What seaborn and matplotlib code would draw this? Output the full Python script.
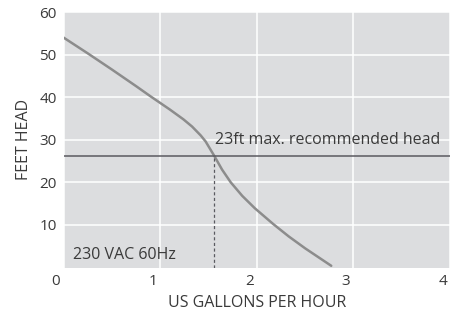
import matplotlib
matplotlib.use("Agg")
import matplotlib.pyplot as plt
import matplotlib.transforms as mtransforms
import pandas as pd
import seaborn as sns

# pump curve
gph = [0, 0.25, 0.5, 0.75, 0.9, 1.1, 1.24, 1.33, 1.42, 1.47, 1.56, 1.64, 1.73, 1.85, 1.98, 2.17, 2.33, 2.5, 2.77]
head = [54, 50.3, 46.5, 42.6, 40.2, 37.1, 34.8, 33.1, 31.0, 29.6, 26.2, 23, 20, 16.8, 13.9, 10.2, 7.3, 4.5, 0.4]
max_head = 26.2
max_gph = 1.56
x_ticks = [0, 1, 2, 3, 4]
y_ticks = [10, 20, 30, 40, 50, 60]

df = pd.DataFrame({"gph": gph, "head": head})

sns.set_theme(style="darkgrid", rc={
    "axes.facecolor": "#dcdddf",
    "grid.color": "white",
    "grid.linewidth": 1.1,
})
plt.rcParams["font.family"] = ["Open Sans", "DejaVu Sans"]
txt = "#3a3a3a"

fig = plt.figure(figsize=(4.57, 3.12), dpi=100)
ax = fig.add_axes([0.139, 0.1426, 0.846, 0.8189])

sns.lineplot(data=df, x="gph", y="head", ax=ax, color="#8c8c8c", linewidth=1.8)
ax.axhline(max_head, color="#5a5a60", linewidth=1.1)
ax.vlines(max_gph, 0, max_head, colors="#5a5a60", linestyles=(0, (2.5, 2)), linewidth=0.9)

ax.text(3.9, 29.1, "23ft max. recommended head", ha="right", va="baseline", fontsize=11.5, color=txt)
ax.text(0.095, 1.9, "230 VAC 60Hz", ha="left", va="baseline", fontsize=11.5, color=txt)

ax.set_xlim(0, 4)
ax.set_ylim(0, 60)
ax.set_xticks(x_ticks)
ax.set_yticks(y_ticks)
ax.tick_params(axis="both", length=0, labelsize=11, labelcolor=txt)
ax.tick_params(axis="x", pad=5)
ax.tick_params(axis="y", pad=5)
# the x labels sit a little left of their gridlines in the original
shift = mtransforms.ScaledTranslation(-7.5 / 100, 0, fig.dpi_scale_trans)
for lab in ax.get_xticklabels():
    lab.set_transform(lab.get_transform() + shift)

ax.set_xlabel("US GALLONS PER HOUR", fontsize=11.5, color=txt, labelpad=4)
ax.set_ylabel("FEET HEAD", fontsize=11.5, color=txt, labelpad=5)
for s in ax.spines.values():
    s.set_visible(False)

fig.savefig("out.png", dpi=100, facecolor="white")
